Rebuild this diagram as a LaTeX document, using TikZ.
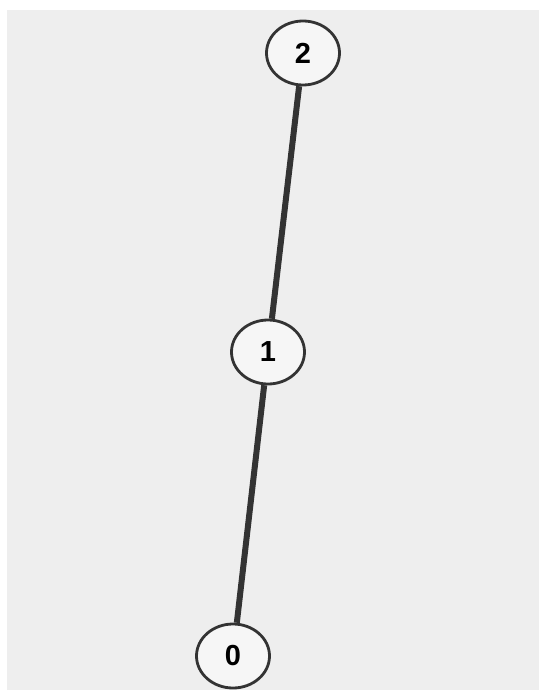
\documentclass[tikz,border=0pt]{standalone}
\usepackage{fontspec}
\setmainfont{Liberation Sans}
\usetikzlibrary{shapes.geometric}
\definecolor{bg}{HTML}{EEEEEE}
\definecolor{nodefill}{HTML}{F6F6F6}
\definecolor{ink}{HTML}{333333}
\tikzset{
  vertex/.style={ellipse, draw=ink, line width=2.8pt, fill=nodefill,
    minimum width=73pt, minimum height=64pt, inner sep=0pt,
    font=\fontsize{29}{29}\selectfont\bfseries, text=black},
  edge/.style={draw=ink, line width=6pt}
}
\begin{document}
\begin{tikzpicture}[x=1pt,y=1pt]
\useasboundingbox (0,0) rectangle (539,-690);
\fill[bg] (7,-10) rectangle (539,-690);
\node[vertex] (n2) at (303,-53) {2};
\node[vertex] (n1) at (268,-352) {1};
\node[vertex] (n0) at (233,-656) {0};
\draw[edge] (n2) -- (n1);
\draw[edge] (n1) -- (n0);
\end{tikzpicture}
\end{document}
